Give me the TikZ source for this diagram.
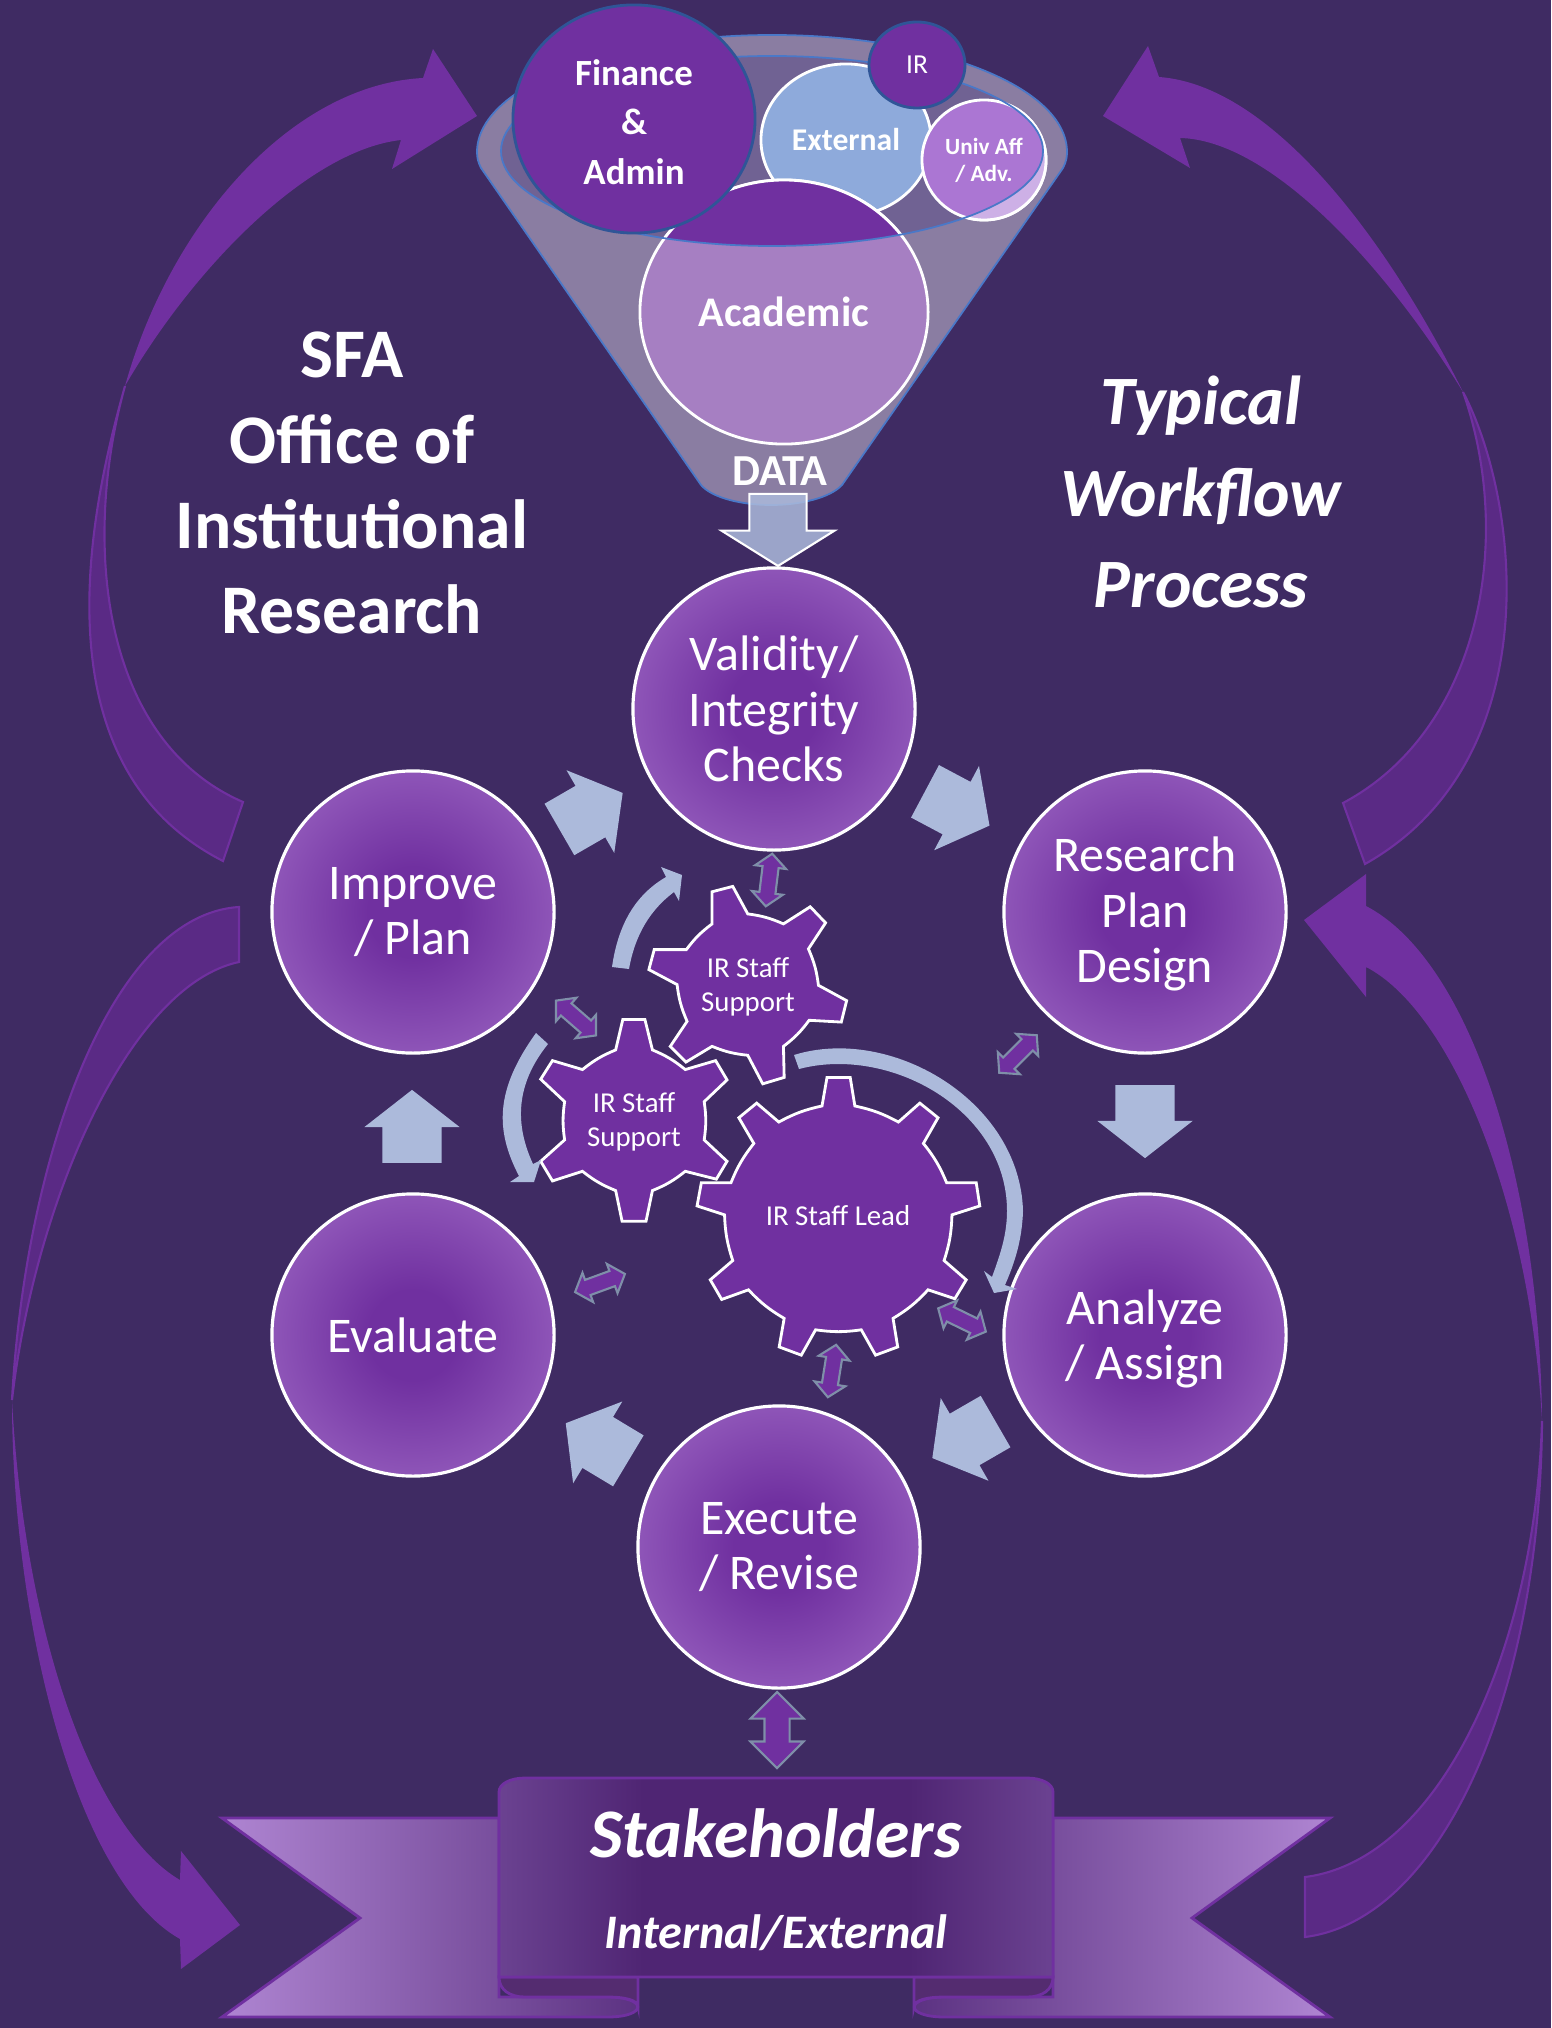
\documentclass[tikz,border=0pt]{standalone}
\usepackage{fontspec}
\setmainfont{Carlito}
\usetikzlibrary{shapes.geometric,shapes.arrows}
\definecolor{bgcol}{HTML}{3F2B63}
\definecolor{purp}{HTML}{7030A0}
\definecolor{darkpurp}{HTML}{5A2A85}
\definecolor{paleblue}{HTML}{ACBADB}
\definecolor{stepedge}{HTML}{A06BC6}
\definecolor{conecol}{HTML}{8A7DA2}
\definecolor{rimcol}{HTML}{706293}
\definecolor{rimline}{HTML}{4A78C8}
\definecolor{ringline}{HTML}{2F5597}
\definecolor{linkcol}{HTML}{7F8FA9}
\definecolor{extcol}{HTML}{8EAADB}
\definecolor{univcol}{HTML}{AB76D3}
\definecolor{univpale}{HTML}{CDB0E6}
\definecolor{acadcol}{HTML}{A67FC2}
\definecolor{tailcol}{HTML}{AF85D2}
\definecolor{tailend}{HTML}{5A3080}
\definecolor{panelmid}{HTML}{4F2573}
\definecolor{paneledge}{HTML}{6B4291}
\definecolor{foldcol}{HTML}{542C70}
\pgfdeclareradialshading{stepshade}{\pgfpoint{0bp}{0bp}}{color(0bp)=(purp); color(8bp)=(purp); color(35bp)=(stepedge); color(50bp)=(stepedge)}
\pgfdeclarehorizontalshading{panelshade}{100bp}{color(0bp)=(paneledge); color(25bp)=(paneledge); color(38bp)=(panelmid); color(62bp)=(panelmid); color(75bp)=(paneledge); color(100bp)=(paneledge)}
\tikzset{
  stepnode/.style={circle, draw=white, line width=0.9pt, minimum size=2.82cm, inner sep=0pt, align=center,
    shading=stepshade, text=white, font=\fontsize{14.2}{15.8}\selectfont},
  steptext/.style={align=center, text=white, font=\fontsize{14.2}{15.8}\selectfont},
  source/.style={ellipse, inner sep=0pt, align=center, text=white},
  gear/.style={fill=purp, draw=white, line width=0.8pt, line join=miter},
  gearlabel/.style={align=center, text=white, font=\fontsize{8.2}{9.6}\selectfont},
  flow/.style={single arrow, fill=paleblue, inner xsep=0pt, inner ysep=0.29cm, minimum height=0.73cm,
    single arrow head extend=0.18cm, single arrow tip angle=104},
  link/.style={double arrow, fill=purp, draw=linkcol, line width=0.6pt, inner xsep=0pt, inner ysep=0.07cm, minimum height=0.53cm,
    double arrow head extend=0.075cm, double arrow tip angle=98},
  title/.style={align=center, text=white, font=\fontsize{19.8}{24.2}\bfseries\selectfont},
  swoosh/.style={fill=purp},
  swooshtail/.style={fill=darkpurp, draw=purp, line width=0.6pt},
  turn/.style={fill=paleblue},
  ribbon/.style={draw=purp, line width=0.8pt}
}
\begin{document}
\begin{tikzpicture}[x=0.01cm,y=-0.01cm]
  \useasboundingbox (0,0) rectangle (1551,2028);
  \fill[bgcol] (0,0) rectangle (1551,2028);

  % large arrows
  \draw[swooshtail] (125,386) .. controls (98,483) and (25,760) .. (223,861) -- (243,802)
    .. controls (100,740) and (82,540) .. (125,386) -- cycle;
  \fill[swoosh] (125,386) .. controls (170,225) and (290,85) .. (423,78) -- (433,49) -- (477,116) -- (392,169) -- (401,140)
    .. controls (310,150) and (195,265) .. (125,386) -- cycle;
  \draw[swooshtail] (1463,392) .. controls (1520,500) and (1550,760) .. (1365,864) -- (1343,803)
    .. controls (1480,730) and (1515,540) .. (1463,392) -- cycle;
  \fill[swoosh] (1463,392) .. controls (1385,235) and (1270,85) .. (1159,77) -- (1148,46) -- (1103,116) -- (1190,168) -- (1180,138)
    .. controls (1270,140) and (1385,265) .. (1463,392) -- cycle;
  \draw[swooshtail] (12,1400) .. controls (25,1160) and (110,915) .. (239,907) -- (239,962)
    .. controls (130,985) and (35,1200) .. (12,1400) -- cycle;
  \fill[swoosh] (12,1400) .. controls (12,1620) and (75,1880) .. (180,1939) -- (181,1969) -- (240,1925) -- (181,1851) -- (180,1880)
    .. controls (95,1830) and (25,1640) .. (12,1400) -- cycle;
  \draw[swooshtail] (1542,1421) .. controls (1540,1700) and (1440,1920) .. (1305,1937) -- (1305,1877)
    .. controls (1440,1860) and (1535,1650) .. (1542,1421) -- cycle;
  \fill[swoosh] (1542,1421) .. controls (1540,1180) and (1470,960) .. (1366,906) -- (1366,874) -- (1304,920) -- (1366,997) -- (1366,967)
    .. controls (1450,1010) and (1530,1200) .. (1542,1421) -- cycle;

  % funnel
  \draw[fill=conecol, draw=rimline, line width=0.5pt] (477,152) .. controls (477,87) and (609,35) .. (772,35)
    .. controls (935,35) and (1067,87) .. (1067,152) .. controls (1067,158) and (1066,162) .. (1063,168) -- (842,485)
    .. controls (830,498) and (800,505) .. (771,505) .. controls (742,505) and (712,498) .. (701,485)
    -- (481,168) .. controls (478,162) and (477,158) .. (477,152) -- cycle;
  \fill[rimcol] (772,151) ellipse [x radius=271, y radius=95];
  \node[source, fill=extcol, draw=white, line width=0.8pt, minimum width=1.70cm, minimum height=1.52cm,
    font=\fontsize{9}{11}\bfseries\selectfont] (external) at (846,140) {External};
  \node[source, fill=univcol, draw=white, line width=0.8pt, minimum width=1.24cm, minimum height=1.20cm,
    font=\fontsize{6.6}{7.7}\bfseries\selectfont] (univ) at (984,160) {Univ Aff\\/ Adv.};
  \node[source, fill=acadcol, draw=white, line width=0.8pt, minimum width=2.88cm, minimum height=2.64cm,
    font=\fontsize{12}{14}\bfseries\selectfont] (academic) at (784,312) {Academic};
  \begin{scope}
    \clip (772,151) ellipse [x radius=271, y radius=95];
    \fill[purp] (784,312) ellipse [x radius=144, y radius=132];
    \draw[white, line width=0.8pt] (784,312) ellipse [x radius=144, y radius=132];
  \end{scope}
  \begin{scope}[even odd rule]
    \clip (0,0) rectangle (1551,2028) (772,151) ellipse [x radius=271, y radius=95];
    \fill[univpale] (984,160) ellipse [x radius=62, y radius=60];
    \draw[white, line width=0.8pt] (984,160) ellipse [x radius=62, y radius=60];
  \end{scope}
  \draw[rimline, line width=0.5pt] (772,151) ellipse [x radius=271, y radius=95];
  \node[source, fill=purp, draw=ringline, line width=0.8pt, minimum width=2.42cm, minimum height=2.28cm] (finance) at (634,119) {};
  \node[source, font=\fontsize{10.5}{14}\bfseries\selectfont] (financetext) at (634,122) {Finance\\\&\\Admin};
  \node[source, fill=purp, draw=ringline, line width=0.8pt, minimum width=0.96cm, minimum height=0.86cm,
    font=\fontsize{7.8}{9}\selectfont] (ir) at (917,65) {IR};
  \node[text=white, font=\fontsize{12.6}{14}\bfseries\selectfont] (data) at (780,471) {DATA};
  \node[flow, draw=white, fill opacity=0.85, line width=0.6pt, rotate=-90, minimum height=0.72cm, inner ysep=0.275cm,
    single arrow head extend=0.28cm, single arrow tip angle=116] (dataflow) at (778,521) {};

  % titles
  \node[title] (office) at (352,483) {SFA\\Office of\\Institutional\\Research};
  \node[title, font=\fontsize{19.7}{25.9}\bfseries\itshape\selectfont] (typical) at (1201,492) {Typical\\Workflow\\Process};

  % steps
  \node[stepnode] (valid) at (774,709) {Validity/\\Integrity\\Checks};
  \node[stepnode] (plan) at (1145,912) {};
  \node[steptext] (plantext) at (1145,914) {Research\\Plan\\Design};
  \node[stepnode] (assign) at (1145,1335) {};
  \node[steptext] (assigntext) at (1145,1339) {Analyze\\/ Assign};
  \node[stepnode] (revise) at (779,1547) {Execute\\/ Revise};
  \node[stepnode] (evaluate) at (413,1335) {Evaluate};
  \node[stepnode] (improve) at (413,912) {Improve\\/ Plan};

  \node[flow, rotate=30] (flow1) at (581,817) {};
  \node[flow, rotate=-28] (flow2) at (947,803) {};
  \node[flow, rotate=-90] (flow3) at (1145,1110) {};
  \node[flow, rotate=210] (flow4) at (974,1434) {};
  \node[flow, rotate=149] (flow5) at (607,1448) {};
  \node[flow, rotate=90] (flow6) at (412,1138) {};

  % gears
  \begin{scope}[shift={(480,840)},scale=0.357]
    \draw[gear] (650,145) -- (708,130) -- (750,207) to[bend left=8] (850,235) -- (925,187) -- (968,232) -- (920,305) to[bend left=8] (948,407)
      -- (1027,450) -- (1012,510) -- (922,505) to[bend left=8] (850,578) -- (852,665) -- (792,683) -- (750,603) to[bend left=8] (650,578)
      -- (577,622) -- (533,578) -- (580,508) to[bend left=8] (552,405) -- (473,363) -- (488,307) -- (578,307) to[bend left=8] (650,235) -- cycle;
    \draw[gear] (400,503) -- (462,503) -- (483,588) to[bend left=8] (575,643) -- (660,618) -- (692,672) -- (628,733) to[bend left=8] (628,840)
      -- (692,900) -- (662,950) -- (575,928) to[bend left=8] (483,982) -- (465,1068) -- (398,1068) -- (380,982) to[bend left=8] (287,928)
      -- (203,955) -- (170,900) -- (237,840) to[bend left=8] (237,733) -- (170,670) -- (203,618) -- (287,643) to[bend left=8] (380,588) -- cycle;
    \draw[gear] (972,665) -- (1037,665) -- (1050,745) to[bend left=8] (1172,790) -- (1232,737) -- (1283,778) -- (1242,850) to[bend left=8] (1307,960)
      -- (1390,960) -- (1400,1025) -- (1322,1050) to[bend left=8] (1300,1178) -- (1362,1232) -- (1330,1285) -- (1255,1260) to[bend left=8] (1157,1340)
      -- (1170,1420) -- (1108,1443) -- (1068,1372) to[bend left=8] (940,1372) -- (900,1443) -- (838,1420) -- (852,1340) to[bend left=8] (752,1260)
      -- (677,1287) -- (645,1232) -- (708,1178) to[bend left=8] (685,1050) -- (608,1025) -- (620,960) -- (703,960) to[bend left=8] (767,850)
      -- (725,778) -- (775,737) -- (837,790) to[bend left=8] (958,745) -- cycle;
  \end{scope}
  \node[gearlabel] (support1) at (748,987) {IR Staff\\Support};
  \node[gearlabel] (support2) at (634,1122) {IR Staff\\Support};
  \node[gearlabel] (lead) at (838,1216) {IR Staff Lead};

  % turning arrows
  \fill[turn] (612,967) .. controls (618,925) and (635,895) .. (666,877) -- (661,867) -- (682,875) -- (679,901) -- (674,892)
    .. controls (650,910) and (635,935) .. (629,969) -- cycle;
  \fill[turn] (536,1033) .. controls (495,1090) and (495,1130) .. (519,1176) -- (510,1182) -- (534,1182) -- (541,1160) -- (533,1164)
    .. controls (515,1125) and (515,1085) .. (548,1044) -- cycle;
  \fill[turn] (794,1055) .. controls (890,1025) and (1020,1100) .. (1023,1211) .. controls (1022,1240) and (1015,1262) .. (1005,1285)
    -- (1017,1289) -- (994,1293) -- (984,1271) -- (992,1277)
    .. controls (1000,1255) and (1007,1235) .. (1007,1211) .. controls (1007,1110) and (890,1045) .. (799,1069) -- cycle;

  % links
  \node[link, rotate=83] (link1) at (769,880) {};
  \node[link, rotate=-41] (link2) at (576,1018) {};
  \node[link, rotate=45] (link3) at (1018,1054) {};
  \node[link, rotate=20] (link4) at (600,1283) {};
  \node[link, rotate=-26] (link5) at (962,1320) {};
  \node[link, rotate=81] (link6) at (832,1371) {};
  \node[link, rotate=90, minimum height=0.76cm, inner ysep=0.115cm, double arrow head extend=0.14cm, double arrow tip angle=90] (link7) at (777,1730) {};

  % banner
  \draw[ribbon, left color=tailcol, right color=tailend] (499,1818) -- (222,1818) -- (360,1918) -- (222,2017) -- (607,2017)
    .. controls (648,2017) and (648,1997) .. (607,1997) -- (499,1997) -- cycle;
  \draw[ribbon, right color=tailcol, left color=tailend] (1053,1818) -- (1330,1818) -- (1192,1918) -- (1330,2017) -- (945,2017)
    .. controls (904,2017) and (904,1997) .. (945,1997) -- (1053,1997) -- cycle;
  \draw[ribbon, fill=foldcol] (638,1977) -- (638,2007) .. controls (638,2000) and (625,1997) .. (607,1997) -- (525,1997)
    .. controls (510,1997) and (499,1990) .. (499,1977) -- cycle;
  \draw[ribbon, fill=foldcol] (914,1977) -- (914,2007) .. controls (914,2000) and (927,1997) .. (945,1997) -- (1027,1997)
    .. controls (1042,1997) and (1053,1990) .. (1053,1977) -- cycle;
  \draw[ribbon, shading=panelshade] (499,1977) -- (499,1792)
    .. controls (499,1784) and (510,1778) .. (525,1778) -- (1027,1778) .. controls (1042,1778) and (1053,1784) .. (1053,1792) -- (1053,1977) -- cycle;
  \node[text=white, font=\fontsize{19.8}{24}\bfseries\itshape\selectfont] (stake) at (776,1833) {Stakeholders};
  \node[text=white, font=\fontsize{13.7}{17}\bfseries\itshape\selectfont] (internal) at (776,1933) {Internal/External};
\end{tikzpicture}
\end{document}
